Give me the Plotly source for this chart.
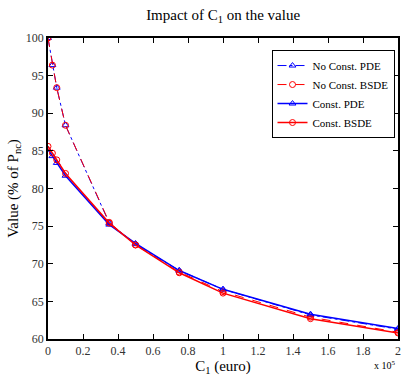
import plotly.graph_objects as go

# C1 in units of 10^5 euro
c1 = [0, 0.025, 0.05, 0.1, 0.35, 0.5, 0.75, 1.0, 1.5, 2.0]
noconst_pde = [100.0, 96.4, 93.4, 88.4, 75.4, 72.6, 69.1, 66.6, 63.2, 61.3]
noconst_bsde = [100.0, 96.4, 93.4, 88.4, 75.5, 72.5, 68.9, 66.3, 62.9, 60.9]
const_pde = [85.2, 84.3, 83.4, 81.7, 75.2, 72.7, 69.1, 66.6, 63.3, 61.4]
const_bsde = [85.6, 84.7, 83.8, 82.0, 75.4, 72.5, 68.8, 66.1, 62.7, 60.8]

xticks = [0, 0.2, 0.4, 0.6, 0.8, 1, 1.2, 1.4, 1.6, 1.8, 2]
xtick_text = ["0", "0.2", "0.4", "0.6", "0.8", "1", "1.2", "1.4", "1.6", "1.8", "2"]
yticks = [60, 65, 70, 75, 80, 85, 90, 95, 100]

FONT = "Liberation Serif"
BLUE = "#0000ff"
RED = "#ff0000"

fig = go.Figure()
fig.add_trace(go.Scatter(x=c1, y=noconst_pde, name="No Const. PDE", mode="lines+markers",
                         line=dict(color=BLUE, width=1, dash="dashdot"),
                         marker=dict(symbol="triangle-up-open", size=6, color=BLUE)))
fig.add_trace(go.Scatter(x=c1, y=noconst_bsde, name="No Const. BSDE", mode="lines+markers",
                         line=dict(color=RED, width=1, dash="dash"),
                         marker=dict(symbol="circle-open", size=6, color=RED)))
fig.add_trace(go.Scatter(x=c1, y=const_pde, name="Const. PDE", mode="lines+markers",
                         line=dict(color=BLUE, width=1.5),
                         marker=dict(symbol="triangle-up-open", size=6, color=BLUE)))
fig.add_trace(go.Scatter(x=c1, y=const_bsde, name="Const. BSDE", mode="lines+markers",
                         line=dict(color=RED, width=1.5),
                         marker=dict(symbol="circle-open", size=6, color=RED)))

axis_common = dict(showline=True, linecolor="black", linewidth=1.5, mirror="ticks",
                   ticks="inside", ticklen=5, tickcolor="black", showgrid=False,
                   zeroline=False, tickfont=dict(family=FONT, size=12, color="#333"))

fig.update_layout(
    width=402, height=376,
    margin=dict(l=48, r=2, t=38, b=37),
    paper_bgcolor="white", plot_bgcolor="white",
    font=dict(family=FONT, color="black"),
    title=dict(text="Impact of C<sub>1</sub> on the value", x=0.555, xanchor="center",
               y=0.975, yanchor="top", font=dict(family=FONT, size=15)),
    xaxis=dict(range=[0, 2], tickvals=xticks, ticktext=xtick_text,
               title=dict(text="C<sub>1</sub> (euro)", font=dict(family=FONT, size=15), standoff=4),
               **axis_common),
    yaxis=dict(range=[60, 100], tickvals=yticks,
               title=dict(text="Value (% of P<sub>nc</sub>)", font=dict(family=FONT, size=15), standoff=4),
               **axis_common),
    legend=dict(x=0.99, y=0.96, xanchor="right", yanchor="top",
                bgcolor="white", bordercolor="black", borderwidth=1,
                font=dict(family=FONT, size=11), tracegroupgap=0, itemwidth=30),
    showlegend=True,
)
fig.add_annotation(text="x 10<sup>5</sup>", xref="paper", yref="paper", x=1.0, y=-0.06,
                   xanchor="right", yanchor="top", showarrow=False,
                   font=dict(family=FONT, size=10))

fig.write_html("out.html")
